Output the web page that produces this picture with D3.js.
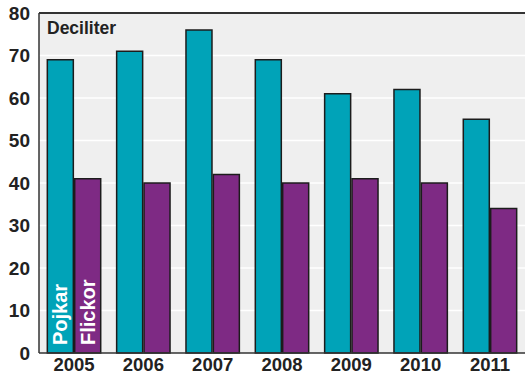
<!DOCTYPE html>
<html><head><meta charset="utf-8">
<script src="https://cdn.jsdelivr.net/npm/d3@7/dist/d3.min.js"></script>
<style>body{margin:0;background:#fff}svg{display:block}</style>
</head><body>
<svg id="c" width="525" height="376"></svg>
<script>
const years = ["2005","2006","2007","2008","2009","2010","2011"];
const pojkar = [69,71,76,69,61,62,55];
const flickor = [41,40,42,40,41,40,34];
const yTicks = [0,10,20,30,40,50,60,70,80];
const seriesNames = ["Pojkar","Flickor"];
const unitLabel = "Deciliter";

const svg = d3.select("#c");
const L = 39, R = 525, T = 13, B = 353;
const font = "'Liberation Sans', Arial, sans-serif";
const x = d3.scaleBand().domain(years).range([L, R]).paddingInner(0.23).paddingOuter(0.12);
const y = d3.scaleLinear().domain([0, 80]).range([B, T]);
const sub = d3.scaleBand().domain(seriesNames).range([0, x.bandwidth()]).paddingInner(0.05);
const colors = {Pojkar: "#00a3b8", Flickor: "#7e2a84"};

svg.append("rect").attr("x", L).attr("y", T).attr("width", R - L).attr("height", B - T).attr("fill", "#efefef");

// gridlines
svg.append("g").selectAll("line").data(yTicks.filter(d => d > 0 && d < 80)).join("line")
  .attr("x1", L).attr("x2", R).attr("y1", d => y(d)).attr("y2", d => y(d))
  .attr("stroke", "#ffffff").attr("stroke-width", 1.5);

// y axis labels
const yAxis = d3.axisLeft(y).tickValues(yTicks).tickSize(0).tickPadding(9);
const gy = svg.append("g").attr("transform", `translate(${L},0)`).call(yAxis);
gy.select(".domain").remove();
gy.selectAll("text").attr("font-family", font).attr("font-weight", "bold").attr("font-size", 19).attr("fill", "#222");

// x axis labels
const xAxis = d3.axisBottom(x).tickSize(0).tickPadding(5);
const gx = svg.append("g").attr("transform", `translate(0,${B})`).call(xAxis);
gx.select(".domain").remove();
gx.selectAll("text").attr("font-family", font).attr("font-weight", "bold").attr("font-size", 18.5).attr("fill", "#222");

const data = years.map((yr, i) => ({yr, Pojkar: pojkar[i], Flickor: flickor[i]}));
const groups = svg.append("g").selectAll("g").data(data).join("g")
  .attr("transform", d => `translate(${x(d.yr)},0)`);
groups.selectAll("rect").data(d => seriesNames.map(s => ({s, v: d[s]}))).join("rect")
  .attr("x", d => sub(d.s)).attr("width", sub.bandwidth())
  .attr("y", d => y(d.v)).attr("height", d => y(0) - y(d.v))
  .attr("fill", d => colors[d.s]).attr("stroke", "#1c1c1c").attr("stroke-width", 1.5);

// series labels inside first group
const first = svg.append("g").attr("transform", `translate(${x(years[0])},0)`);
seriesNames.forEach(s => {
  const cx = sub(s) + sub.bandwidth() / 2;
  first.append("text").attr("transform", `translate(${cx + 7},${B - 8}) rotate(-90)`)
    .attr("font-family", font).attr("font-weight", "bold").attr("font-size", 20)
    .attr("fill", "#fff").text(s);
});

// frame
svg.append("line").attr("x1", L).attr("x2", L).attr("y1", T).attr("y2", B).attr("stroke", "#333").attr("stroke-width", 1.5);
svg.append("line").attr("x1", L).attr("x2", R).attr("y1", B).attr("y2", B).attr("stroke", "#333").attr("stroke-width", 1.5);
svg.append("line").attr("x1", L).attr("x2", R).attr("y1", T).attr("y2", T).attr("stroke", "#333").attr("stroke-width", 2);

svg.append("text").attr("x", 47).attr("y", 34).attr("font-family", font).attr("font-weight", "bold")
  .attr("font-size", 17.5).attr("fill", "#222").text(unitLabel);
</script>
</body></html>
